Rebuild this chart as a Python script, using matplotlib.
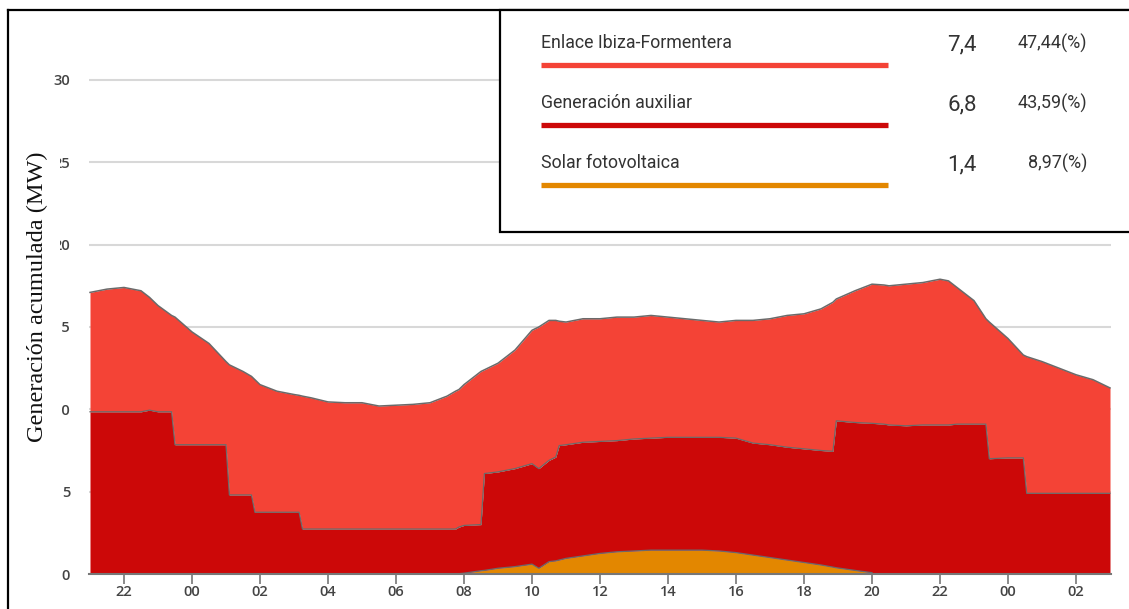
import numpy as np
import matplotlib.pyplot as plt
from matplotlib.patches import Rectangle
from matplotlib.lines import Line2D

# clock hours (21:00 day 1 -> 03:00 day 3)
hours = [21.0, 21.5, 22.0, 22.5, 22.75, 23.0, 23.4, 23.5, 24.0, 24.5,
         25.0, 25.1, 25.5, 25.75, 25.85, 26.0, 26.5, 27.0, 27.15, 27.25,
         27.5, 28.0, 28.5, 29.0, 29.5, 30.0, 30.5, 31.0, 31.5, 31.75,
         31.85, 32.0, 32.5, 32.6, 33.0, 33.5, 34.0, 34.2, 34.5, 34.7,
         34.8, 35.0, 35.5, 36.0, 36.5, 37.0, 37.5, 38.0, 38.5, 39.0,
         39.5, 40.0, 40.5, 41.0, 41.5, 42.0, 42.5, 42.85, 42.95, 43.5,
         44.0, 44.35, 44.5, 45.0, 45.5, 46.0, 46.25, 46.5, 47.0, 47.35,
         47.45, 48.0, 48.45, 48.55, 49.0, 49.5, 50.0, 50.5, 51.0]

solar = [0, 0, 0, 0, 0, 0, 0, 0, 0, 0,
         0, 0, 0, 0, 0, 0, 0, 0, 0, 0,
         0, 0, 0, 0, 0, 0, 0, 0, 0, 0,
         0.02, 0.05, 0.2, 0.22, 0.35, 0.45, 0.6, 0.35, 0.75, 0.8,
         0.85, 0.95, 1.1, 1.25, 1.35, 1.4, 1.45, 1.45, 1.45, 1.45,
         1.4, 1.3, 1.15, 1.0, 0.85, 0.7, 0.55, 0.42, 0.38, 0.22,
         0.08, 0, 0, 0, 0, 0, 0, 0, 0, 0,
         0, 0, 0, 0, 0, 0, 0, 0, 0]

auxiliar = [9.85, 9.85, 9.85, 9.85, 9.95, 9.85, 9.85, 7.85, 7.85, 7.85,
            7.85, 4.8, 4.8, 4.8, 3.75, 3.75, 3.75, 3.75, 3.75, 2.73,
            2.73, 2.73, 2.73, 2.73, 2.73, 2.73, 2.73, 2.73, 2.73, 2.73,
            2.83, 2.9, 2.8, 5.88, 5.85, 5.95, 6.1, 6.05, 6.15, 6.3,
            6.95, 6.9, 6.9, 6.8, 6.75, 6.8, 6.8, 6.85, 6.85, 6.85,
            6.9, 6.95, 6.8, 6.85, 6.85, 6.9, 6.95, 7.03, 8.92, 8.98,
            9.07, 9.1, 9.05, 9.0, 9.05, 9.05, 9.05, 9.1, 9.1, 9.1,
            7.0, 7.05, 7.05, 4.9, 4.9, 4.9, 4.9, 4.9, 4.9]

enlace = [7.25, 7.45, 7.55, 7.35, 6.85, 6.45, 5.85, 7.75, 6.85, 6.15,
          5.05, 7.9, 7.5, 7.2, 8.05, 7.75, 7.35, 7.15, 7.1, 8.07,
          7.97, 7.72, 7.67, 7.67, 7.47, 7.52, 7.57, 7.67, 8.07, 8.37,
          8.35, 8.55, 9.3, 6.3, 6.6, 7.2, 8.1, 8.6, 8.5, 8.3,
          7.55, 7.45, 7.5, 7.45, 7.5, 7.4, 7.45, 7.3, 7.2, 7.1,
          7.0, 7.15, 7.45, 7.65, 8.0, 8.2, 8.6, 9.05, 7.4, 8.0,
          8.45, 8.45, 8.45, 8.6, 8.65, 8.85, 8.75, 8.3, 7.5, 6.4,
          8.3, 7.25, 6.25, 8.3, 8.0, 7.6, 7.2, 6.9, 6.4]

series = ["Enlace Ibiza-Formentera", "Generación auxiliar", "Solar fotovoltaica"]
series_mw = ["7,4", "6,8", "1,4"]
series_pct = ["47,44(%)", "43,59(%)", "8,97(%)"]
colors = ["#F44336", "#CC0808", "#E38700"]

x_ticks = list(range(22, 51, 2))
x_labels = ["%02d" % (h % 24) for h in x_ticks]
y_ticks = [0, 5, 10, 15, 20, 25, 30]

t = np.array(hours)
s = np.array(solar)
cum = s + np.array(auxiliar)
tot = cum + np.array(enlace)

W, H = 1129, 609
fig = plt.figure(figsize=(W / 100, H / 100), dpi=100)
ax = fig.add_axes([89 / W, 1 - 574 / H, (1111 - 89) / W, (574 - 63.5) / H])

ax.fill_between(t, 0, s, color=colors[2], lw=0, zorder=2)
ax.fill_between(t, s, cum, color=colors[1], lw=0, zorder=2)
ax.fill_between(t, cum, tot, color=colors[0], lw=0, zorder=2)
edge = "#6a6a6a"
sm = np.where(s > 0, s, np.nan)
ax.plot(t, sm, color=edge, lw=0.9, zorder=3)
ax.plot(t, cum, color=edge, lw=0.9, zorder=3)
ax.plot(t, tot, color=edge, lw=1.1, zorder=3)

ax.set_xlim(21 - 1 / 34, 51 + 1 / 34)
ax.set_ylim(0, 31)
ax.set_yticks(y_ticks)
ax.set_yticklabels([str(v) for v in y_ticks])
ax.set_xticks(x_ticks)
ax.set_xticklabels(x_labels)
ax.grid(axis="y", color="#d8d8d8", lw=1.5, zorder=0)
ax.set_axisbelow(True)
for sp in ["top", "right", "left"]:
    ax.spines[sp].set_visible(False)
ax.spines["bottom"].set_color("#777777")
ax.spines["bottom"].set_linewidth(1.5)
ax.spines["bottom"].set_zorder(4)
ax.tick_params(axis="x", length=7, width=1.2, color="#777777", pad=1,
               labelsize=10.5, labelcolor="#444444")
ax.tick_params(axis="y", length=0, pad=13.5, labelsize=10.5, labelcolor="#444444")
for lab in ax.get_xticklabels() + ax.get_yticklabels():
    lab.set_fontfamily("Open Sans")
    lab.set_fontweight("semibold")

# y label drawn over the tick labels with a white backing
fig.patches.append(Rectangle((22 / W, 1 - 448 / H), 37.5 / W, 300 / H,
                             transform=fig.transFigure, facecolor="white",
                             edgecolor="none", zorder=5))
fig.text(37 / W, 1 - 297 / H, "Generación acumulada (MW)", rotation=90,
         ha="center", va="center", fontsize=17.5, family="Liberation Serif",
         color="#111111", zorder=6)

# outer frame
fig.lines.append(Line2D([8 / W, 8 / W], [0, 1 - 10 / H], transform=fig.transFigure,
                        color="black", lw=1.6, zorder=7))
fig.lines.append(Line2D([8 / W, 1], [1 - 10 / H, 1 - 10 / H], transform=fig.transFigure,
                        color="black", lw=1.6, zorder=7))

# legend box
fig.patches.append(Rectangle((500 / W, 1 - 232 / H), 640 / W, 222 / H,
                             transform=fig.transFigure, facecolor="white",
                             edgecolor="black", lw=1.6, zorder=8))
for i in range(3):
    ty = 43 + 60 * i
    ly = 65 + 60 * i
    fig.text(541 / W, 1 - ty / H, series[i], ha="left", va="center",
             fontsize=12.8, family="Roboto", color="#333333", zorder=9)
    fig.text(962 / W, 1 - (ty + 2) / H, series_mw[i], ha="center", va="center",
             fontsize=16, family="Roboto", color="#333333", zorder=9)
    fig.text(1087 / W, 1 - ty / H, series_pct[i], ha="right", va="center",
             fontsize=13, family="Roboto", color="#333333", zorder=9)
    fig.lines.append(Line2D([541 / W, 888 / W], [1 - ly / H, 1 - ly / H],
                            transform=fig.transFigure, color=colors[i],
                            lw=3.8, solid_capstyle="butt", zorder=9))

fig.savefig("out.png", dpi=100)
